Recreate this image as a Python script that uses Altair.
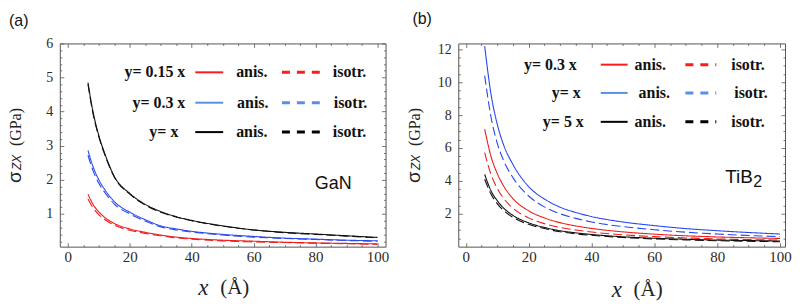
import altair as alt
import pandas as pd

# ---------------- data ----------------
X_GAN = [6.5, 8, 10, 12, 15, 20, 25, 30, 35, 40, 50, 60, 70, 80, 90, 100]
GAN_015_ANIS = [1.58, 1.30, 1.06, 0.89, 0.72, 0.56, 0.46, 0.38, 0.32, 0.28, 0.23, 0.20, 0.17, 0.15, 0.135, 0.12]
GAN_015_ISO = [1.44, 1.20, 0.98, 0.83, 0.67, 0.52, 0.43, 0.36, 0.30, 0.26, 0.21, 0.18, 0.16, 0.14, 0.125, 0.11]
GAN_03_ANIS = [2.86, 2.42, 2.00, 1.70, 1.36, 1.05, 0.83, 0.65, 0.56, 0.49, 0.40, 0.34, 0.29, 0.26, 0.23, 0.21]
GAN_03_ISO = [2.72, 2.30, 1.90, 1.62, 1.29, 1.00, 0.79, 0.62, 0.53, 0.47, 0.38, 0.32, 0.28, 0.25, 0.22, 0.20]
GAN_1_ANIS = [4.85, 4.05, 3.30, 2.75, 2.10, 1.60, 1.28, 1.07, 0.92, 0.81, 0.65, 0.53, 0.46, 0.41, 0.36, 0.31]
GAN_1_ISO = [4.80, 4.00, 3.26, 2.72, 2.08, 1.58, 1.26, 1.05, 0.91, 0.80, 0.64, 0.53, 0.45, 0.40, 0.35, 0.30]

X_TIB = [6, 8, 10, 12, 15, 20, 25, 30, 35, 40, 50, 60, 70, 80, 90, 100]
TIB_03_ANIS = [7.15, 5.50, 4.45, 3.70, 2.92, 2.18, 1.75, 1.46, 1.26, 1.11, 0.90, 0.76, 0.66, 0.59, 0.54, 0.50]
TIB_03_ISO = [5.72, 4.40, 3.55, 2.95, 2.34, 1.75, 1.40, 1.17, 1.01, 0.89, 0.72, 0.61, 0.53, 0.47, 0.43, 0.40]
TIB_1_ANIS = [12.2, 9.30, 7.45, 6.20, 5.00, 3.65, 2.90, 2.40, 2.08, 1.83, 1.50, 1.28, 1.10, 0.97, 0.86, 0.77]
TIB_1_ISO = [10.4, 7.90, 6.30, 5.25, 4.20, 3.08, 2.42, 2.00, 1.72, 1.50, 1.22, 1.03, 0.88, 0.77, 0.68, 0.61]
TIB_5_ANIS = [4.40, 3.40, 2.80, 2.35, 1.90, 1.45, 1.17, 0.97, 0.84, 0.74, 0.60, 0.51, 0.45, 0.40, 0.37, 0.34]
TIB_5_ISO = [4.10, 3.20, 2.62, 2.20, 1.78, 1.36, 1.10, 0.91, 0.78, 0.69, 0.56, 0.47, 0.41, 0.36, 0.33, 0.30]

GAN_LEGEND = ["y= 0.15 x", "y= 0.3 x", "y= x"]
TIB_LEGEND = ["y= 0.3 x", "y=  x", "y= 5 x"]
KIND_LABELS = ["anis.", "isotr."]
X_TICKS = [0, 20, 40, 60, 80, 100]
X_MINOR = [v for v in range(5, 100, 5) if v % 20]
GAN_Y_TICKS = [1, 2, 3, 4, 5, 6]
GAN_Y_MINOR = [round(0.2 * i, 1) for i in range(1, 30) if i % 5]
TIB_Y_TICKS = [2, 4, 6, 8, 10, 12]
TIB_Y_MINOR = [0.5 * i for i in range(1, 25) if i % 4]

SERIES = ["s0", "s1", "s2"]
KINDS = ["anis", "isotr"]


def long_df(x, curves):
    rows = []
    for (s, k), vals in curves.items():
        for xi, vi in zip(x, vals):
            rows.append({"x": xi, "v": vi, "s": s, "k": k})
    return pd.DataFrame(rows)


GAN_DF = long_df(X_GAN, {
    ("s0", "anis"): GAN_015_ANIS, ("s0", "isotr"): GAN_015_ISO,
    ("s1", "anis"): GAN_03_ANIS, ("s1", "isotr"): GAN_03_ISO,
    ("s2", "anis"): GAN_1_ANIS, ("s2", "isotr"): GAN_1_ISO,
})
TIB_DF = long_df(X_TIB, {
    ("s0", "anis"): TIB_03_ANIS, ("s0", "isotr"): TIB_03_ISO,
    ("s1", "anis"): TIB_1_ANIS, ("s1", "isotr"): TIB_1_ISO,
    ("s2", "anis"): TIB_5_ANIS, ("s2", "isotr"): TIB_5_ISO,
})

PLOT_COLORS = ["#ee1c1c", "#2848f0", "#111111"]
LEG_COLORS = ["#ff1a1a", "#5b8fe6", "#000000"]
SERIF = "Liberation Serif"
SANS = "Liberation Sans"
TICK_COL = "#555555"
LAB_COL = "#2e2a24"


def text_layer(s, x, y, **kw):
    return alt.Chart(pd.DataFrame({"t": [s]})).mark_text(**kw).encode(
        x=alt.value(x), y=alt.value(y), text="t:N")


def seg(x1, x2, y, color, width, dash=None):
    mk = dict(color=color, strokeWidth=width)
    if dash:
        mk["strokeDash"] = dash
    return alt.Chart(pd.DataFrame({"k": [0]})).mark_rule(**mk).encode(
        x=alt.value(x1), x2=alt.value(x2), y=alt.value(y))


def axis(orient, values, size, labels=False, **kw):
    return alt.Axis(orient=orient, values=values, offset=-size, tickSize=size,
                    labels=labels, domain=False, grid=False, title=None,
                    tickColor=TICK_COL, tickWidth=0.8, **kw)


def panel(df, xdom, ydom, yticks, yminor, legend, L, W, H):
    xs = alt.Scale(domain=xdom, nice=False, zero=False)
    ys = alt.Scale(domain=ydom, nice=False, zero=False)
    base = alt.Chart(df)
    color = alt.Color("s:N", scale=alt.Scale(domain=SERIES, range=PLOT_COLORS), legend=None)
    dash = alt.StrokeDash("k:N", scale=alt.Scale(domain=KINDS, range=[[1, 0], [9, 4]]), legend=None)

    lines = base.mark_line(strokeWidth=1.1, interpolate="monotone").encode(
        x=alt.X("x:Q", scale=xs, axis=axis("bottom", X_TICKS, 4, labels=True,
                                          labelFont=SERIF, labelFontSize=15, labelColor=LAB_COL,
                                          labelPadding=3, labelFlush=False, labelOverlap=False)),
        y=alt.Y("v:Q", scale=ys, axis=axis("left", yticks, 4, labels=True,
                                          labelFont=SERIF, labelFontSize=14, labelColor=LAB_COL,
                                          labelPadding=7, labelFlush=False, labelOverlap=False)),
        color=color, strokeDash=dash)
    minor = base.mark_point(opacity=0).encode(
        x=alt.X("x:Q", scale=xs, axis=axis("bottom", X_MINOR, 2)),
        y=alt.Y("v:Q", scale=ys, axis=axis("left", yminor, 2)))
    top = base.mark_point(opacity=0).encode(
        x=alt.X("x:Q", scale=xs, axis=axis("top", X_TICKS, 4)),
        y=alt.Y("v:Q", scale=ys, axis=axis("right", yticks, 4)))
    topminor = base.mark_point(opacity=0).encode(
        x=alt.X("x:Q", scale=xs, axis=axis("top", X_MINOR, 2)),
        y=alt.Y("v:Q", scale=ys, axis=axis("right", yminor, 2)))

    layers = [lines, minor, top, topminor]
    # legend
    for i in range(3):
        y = L["rows"][i]
        layers.append(text_layer(legend[i], L["lab_r"][i], y, align="right", baseline="middle",
                                 font=SERIF, fontSize=16, fontWeight="bold", color="#111"))
        layers.append(seg(L["sol"][0], L["sol"][1], y, LEG_COLORS[i], 2))
        layers.append(text_layer(KIND_LABELS[0], L["anis"][i], y, align="left", baseline="middle",
                                 font=SERIF, fontSize=16, fontWeight="bold", color="#111"))
        layers.append(seg(L["dsh"][0], L["dsh"][1], y, LEG_COLORS[i], 3, [8, 7]))
        layers.append(text_layer(KIND_LABELS[1], L["iso"][i], y, align="left", baseline="middle",
                                 font=SERIF, fontSize=16, fontWeight="bold", color="#111"))
    # material label
    for (s, x, y, fs) in L["mat"]:
        layers.append(text_layer(s, x, y, align="left", baseline="alphabetic",
                                 font=SANS, fontSize=fs, color="#111"))
    # panel tag
    tag, tx, ty = L["tag"]
    layers.append(text_layer(tag, tx, ty, align="left", baseline="alphabetic",
                             font=SANS, fontSize=16, color="#111"))
    # y title: sigma_ZX (GPa)
    yx = L["ytx"]
    layers.append(text_layer("σ", yx, 140, angle=270, align="left", baseline="alphabetic",
                             font=SANS, fontSize=19, color="#222"))
    layers.append(text_layer("ZX", yx, 127, angle=270, align="left", baseline="alphabetic",
                             font=SANS, fontSize=12, fontStyle="italic", color="#222"))
    layers.append(text_layer("(GPa)", yx, 103, angle=270, align="left", baseline="alphabetic",
                             font=SERIF, fontSize=16, color="#222"))
    # x title: x (Å)
    xx, xb = L["xt"]
    layers.append(text_layer("x", xx, xb, align="left", baseline="alphabetic",
                             font=SERIF, fontSize=23, fontStyle="italic", color="#222"))
    layers.append(text_layer("(Å)", xx + 22, xb - 1, align="left", baseline="alphabetic",
                             font=SERIF, fontSize=21, color="#222"))

    return alt.layer(*layers).resolve_axis(x="independent", y="independent").properties(
        width=W, height=H)


LAY_A = dict(rows=[29, 59.5, 89], lab_r=[126, 126, 119], sol=[136, 164],
             anis=[177, 178, 177], dsh=[223, 261], iso=[274, 275, 274],
             mat=[("GaN", 256, 146, 18)], tag=("(a)", -51, -17), ytx=-39, xt=(139, 253))
LAY_B = dict(rows=[21.3, 49.7, 78.7], lab_r=[119, 123, 126], sol=[143, 170],
             anis=[177, 181, 177], dsh=[228, 259], iso=[274, 277, 274],
             mat=[("TiB", 268, 140, 19), ("2", 296, 144.5, 16)], tag=("(b)", -46, -20),
             ytx=-38, xt=(154, 255))

pa = panel(GAN_DF, [-2.6, 102.6], [0.04, 6.0], GAN_Y_TICKS, GAN_Y_MINOR, GAN_LEGEND, LAY_A, 327, 204)
pb = panel(TIB_DF, [-2.4, 101.6], [0.0, 12.36], TIB_Y_TICKS, TIB_Y_MINOR, TIB_LEGEND, LAY_B, 328, 204)

chart = alt.hconcat(pa, pb, spacing=73, bounds="flush").properties(
    padding={"left": -3, "top": 1, "right": 0, "bottom": 0}
).configure_view(stroke="#555555", strokeWidth=1).configure_axis(labelFont=SERIF)

chart.save("out.html", embed_options={"renderer": "svg", "actions": False})
